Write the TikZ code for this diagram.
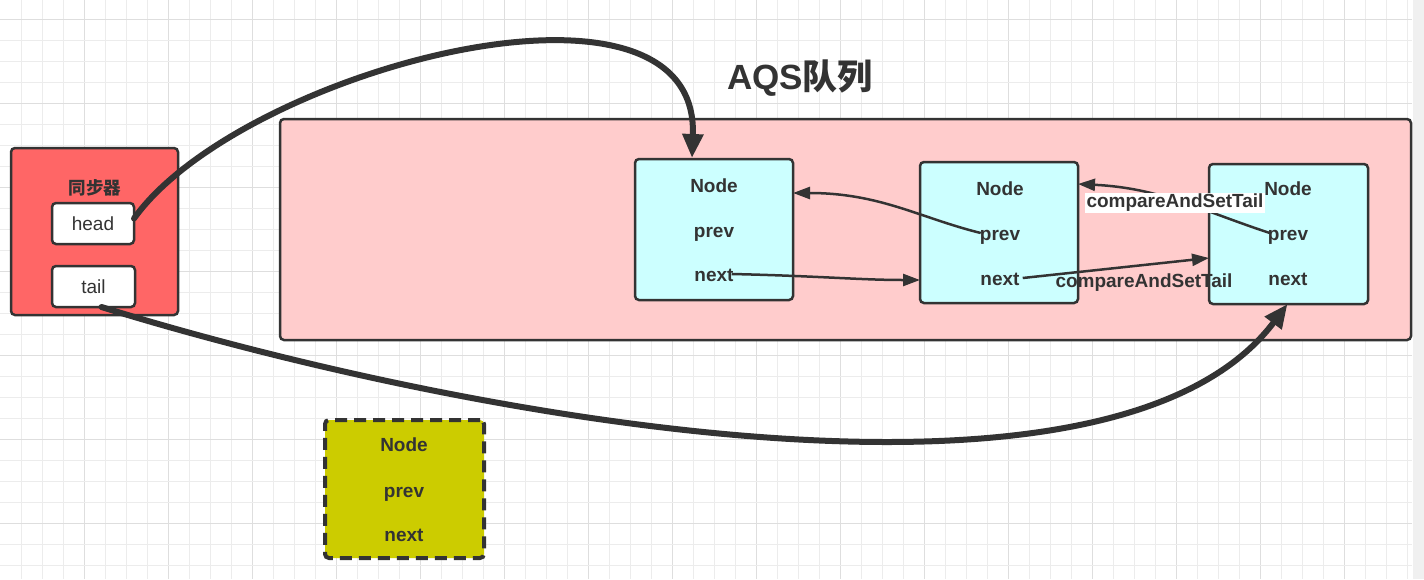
\documentclass[tikz,border=0pt]{standalone}
\usepackage{fontspec}
\setmainfont{Liberation Sans}
\newfontfamily\cjk{Noto Sans CJK SC}
\usetikzlibrary{arrows.meta}
\definecolor{ink}{HTML}{333333}
\definecolor{gridA}{HTML}{ECECEC}
\definecolor{gridB}{HTML}{DEDEDE}
\definecolor{sideband}{HTML}{F0F0F0}
\definecolor{syncred}{HTML}{FF6666}
\definecolor{queuepink}{HTML}{FFCCCC}
\definecolor{nodecyan}{HTML}{CCFFFF}
\definecolor{nodeolive}{HTML}{CCCC00}
\tikzset{
  boxbase/.style={rectangle, rounded corners=4pt, draw=ink, line width=2.5pt, inner sep=0pt, outer sep=0pt},
  qnode/.style={boxbase, fill=nodecyan, minimum width=158pt, minimum height=141pt},
  nodetxt/.style={text=ink, font=\fontsize{19}{21}\selectfont\bfseries, inner sep=0pt, anchor=base},
  fieldbox/.style={boxbase, fill=white, line width=2.5pt, minimum height=41pt, font=\fontsize{19}{21}\selectfont, text=ink},
  thinarrow/.style={draw=ink, line width=2.5pt, -{Triangle[length=17pt,width=12pt]}},
  thickarrow/.style={draw=ink, line width=6pt, line cap=round, -{Triangle[length=24pt,width=20pt]}},
  lbl/.style={text=ink, font=\fontsize{19}{21}\selectfont\bfseries, inner sep=1.5pt}
}
\begin{document}
\begin{tikzpicture}[x=1pt,y=-1pt]
\useasboundingbox (0,0) rectangle (1424,579);
\fill[white] (0,0) rectangle (1424,579);
% grid
\foreach \k in {1,...,67}{
  \pgfmathtruncatemacro\m{mod(\k,4)}
  \ifnum\m=0 \draw[gridB,line width=1pt] (21*\k,0) -- (21*\k,579);
  \else \draw[gridA,line width=1pt] (21*\k,0) -- (21*\k,579); \fi
}
\foreach \k in {1,...,27}{
  \pgfmathtruncatemacro\m{mod(\k,4)}
  \ifnum\m=1 \draw[gridB,line width=1pt] (0,21*\k-2) -- (1412,21*\k-2);
  \else \draw[gridA,line width=1pt] (0,21*\k-2) -- (1412,21*\k-2); \fi
}
\fill[sideband] (1412.5,0) rectangle (1424,579);

% queue container
\node[boxbase, fill=queuepink, minimum width=1131pt, minimum height=221pt] (queue) at (845.5,229.5) {};
\node[text=ink, inner sep=0pt, font=\fontsize{35}{37}\selectfont\bfseries] (title) at (800,78) {AQS\cjk\bfseries 队列};

% synchronizer
\node[boxbase, fill=syncred, minimum width=167pt, minimum height=167pt] (sync) at (94.5,231.5) {};
\node[text=ink, inner sep=0pt, font=\cjk\fontsize{17.5}{19}\selectfont\bfseries] (synctitle) at (95,188) {同步器};
\node[fieldbox, minimum width=82pt] (head) at (93,223.5) {head};
\node[fieldbox, minimum width=83pt] (tail) at (93.5,286.5) {tail};

% queue nodes
\node[qnode] (n1) at (714,229.5) {};
\node[nodetxt] (n1name) at (714,192.5) {Node};
\node[nodetxt] (n1prev) at (714,237) {prev};
\node[nodetxt] (n1next) at (714,281.5) {next};

\node[qnode] (n2) at (999,232.5) {};
\node[nodetxt] (n2name) at (1000,195.5) {Node};
\node[nodetxt] (n2prev) at (1000,240) {prev};
\node[nodetxt] (n2next) at (1000,285) {next};

\node[qnode, minimum width=159pt, minimum height=140pt] (n3) at (1288.5,234) {};
\node[nodetxt] (n3name) at (1288,195.5) {Node};
\node[nodetxt] (n3prev) at (1288,240.5) {prev};
\node[nodetxt] (n3next) at (1288,285.5) {next};

% detached node
\node[boxbase, fill=nodeolive, line width=4pt, dash pattern=on 12pt off 7pt, minimum width=159pt, minimum height=138pt] (n4) at (404.5,489) {};
\node[nodetxt] (n4name) at (404,451.5) {Node};
\node[nodetxt] (n4prev) at (404,497) {prev};
\node[nodetxt] (n4next) at (404,541.5) {next};

% thin links
\draw[thinarrow] ([xshift=-2pt,yshift=7.5pt]n1next.base east) .. controls (820,276) and (860,280) .. (n2.west |- 0,280);
\draw[thinarrow] ([xshift=1pt,yshift=7pt]n2prev.base west) .. controls (920,218) and (880,193) .. ([yshift=-34pt]n1.north east);
\draw[thinarrow] ([xshift=3pt,yshift=7pt]n2next.base east) -- ([yshift=-24pt]n3.west);
\draw[thinarrow] ([xshift=2pt,yshift=7.5pt]n3prev.base west) .. controls (1200,210) and (1160,188) .. ([yshift=-22pt]n2.north east);
\node[lbl, fill=white] (cas1) at (1175,203) {compareAndSetTail};
\node[lbl] (cas2) at (1144,283) {compareAndSetTail};

% thick links
\draw[thickarrow] ([yshift=5pt]head.east) .. controls (240,70) and (700,-52) .. ([xshift=-22pt,yshift=1pt]n1.north);
\draw[thickarrow] ([xshift=8pt]tail.south) .. controls (450,415) and (1110,540) .. ([xshift=-1pt]n3.south);
\end{tikzpicture}
\end{document}
